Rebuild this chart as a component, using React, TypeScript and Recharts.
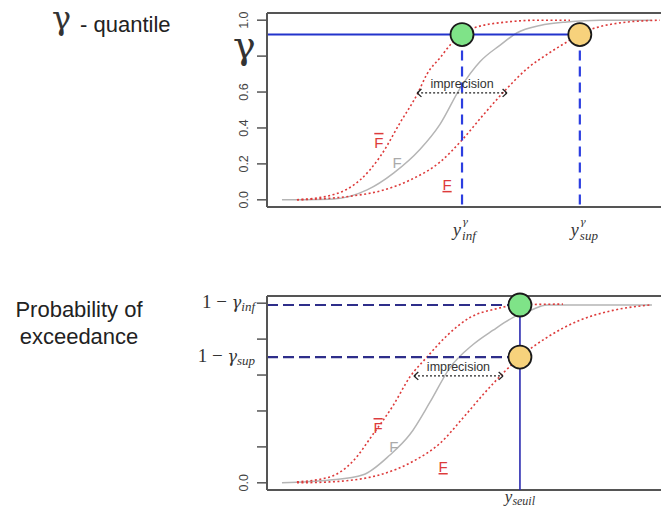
import { ComposedChart, Line, XAxis, YAxis, ReferenceLine, ReferenceDot } from 'recharts';

type Pt = { x: number; y: number };

// --- top panel: gamma-quantile ---
const topF: Pt[] = [
  { x: 3.8, y: 0 }, { x: 17.0, y: 0.005 }, { x: 25.4, y: 0.055 }, { x: 32.2, y: 0.15 },
  { x: 38.8, y: 0.28 }, { x: 43.9, y: 0.42 }, { x: 49.0, y: 0.62 }, { x: 54.1, y: 0.77 },
  { x: 59.1, y: 0.86 }, { x: 63.5, y: 0.93 }, { x: 69.3, y: 0.97 }, { x: 76.1, y: 0.99 },
  { x: 84.5, y: 1.0 }, { x: 97.7, y: 1.0 },
];
const topFUpper: Pt[] = [
  { x: 7.6, y: 0 }, { x: 17.0, y: 0.03 }, { x: 23.6, y: 0.11 }, { x: 28.7, y: 0.24 },
  { x: 33.8, y: 0.43 }, { x: 38.3, y: 0.595 }, { x: 40.6, y: 0.7 }, { x: 43.9, y: 0.79 },
  { x: 47.2, y: 0.88 }, { x: 52.3, y: 0.955 }, { x: 60.9, y: 0.99 }, { x: 69.3, y: 1.0 },
  { x: 76.9, y: 1.0 },
];
const topFLower: Pt[] = [
  { x: 7.6, y: 0 }, { x: 21.1, y: 0.02 }, { x: 29.7, y: 0.055 }, { x: 36.3, y: 0.11 },
  { x: 43.9, y: 0.21 }, { x: 49.5, y: 0.333 }, { x: 54.8, y: 0.47 }, { x: 60.9, y: 0.62 },
  { x: 66.0, y: 0.73 }, { x: 71.8, y: 0.82 }, { x: 77.7, y: 0.9 }, { x: 79.9, y: 0.93 },
  { x: 83.8, y: 0.96 }, { x: 89.6, y: 0.985 }, { x: 99.7, y: 1.0 },
];
const GAMMA = 0.92;
const Y_INF = 49.5;
const Y_SUP = 79.4;
const topImprecision = { from: 38.1, to: 60.9, y: 0.595 };

// --- bottom panel: probability of exceedance ---
const botF: Pt[] = [
  { x: 3.8, y: 0 }, { x: 16.0, y: 0.015 }, { x: 24.4, y: 0.045 }, { x: 31.2, y: 0.155 },
  { x: 36.3, y: 0.27 }, { x: 41.4, y: 0.45 }, { x: 46.4, y: 0.64 }, { x: 52.3, y: 0.77 },
  { x: 57.4, y: 0.85 }, { x: 62.4, y: 0.92 }, { x: 66.8, y: 0.96 }, { x: 71.1, y: 0.99 },
  { x: 97.7, y: 0.99 },
];
const botFUpper: Pt[] = [
  { x: 7.6, y: 0.005 }, { x: 16.0, y: 0.033 }, { x: 21.8, y: 0.12 }, { x: 26.9, y: 0.27 },
  { x: 32.0, y: 0.43 }, { x: 36.3, y: 0.59 }, { x: 40.6, y: 0.7 }, { x: 45.7, y: 0.82 },
  { x: 51.5, y: 0.92 }, { x: 58.4, y: 0.97 }, { x: 63.5, y: 0.99 }, { x: 75.1, y: 0.995 },
];
const botFLower: Pt[] = [
  { x: 7.6, y: 0 }, { x: 16.0, y: 0.005 }, { x: 28.7, y: 0.045 }, { x: 37.1, y: 0.12 },
  { x: 43.9, y: 0.22 }, { x: 49.7, y: 0.36 }, { x: 54.8, y: 0.49 }, { x: 59.9, y: 0.61 },
  { x: 64.2, y: 0.7 }, { x: 71.1, y: 0.81 }, { x: 79.4, y: 0.905 }, { x: 87.8, y: 0.96 },
  { x: 97.2, y: 0.99 },
];
const P_INF = 0.99;
const P_SUP = 0.7;
const Y_SEUIL = 64.2;
const botImprecision = { from: 37.3, to: 59.9, y: 0.595 };

const yTicks = [0, 0.2, 0.4, 0.6, 0.8, 1.0];
const botTicks = [0, 0.2, 0.4, 0.6, 0.7, 0.8, 1.0];

const BOX = '#555';
const RED = '#dd3b3b';
const GREY = '#b5b5b5';
const SERIF = '"Liberation Serif", "DejaVu Serif", serif';
const GREEK = '"DejaVu Serif", serif';
const SANS = '"Liberation Sans", Arial, sans-serif';

// 0.8 label is left out: the big gamma sits there
const RotTick = (props: any) => {
  const { x, y, payload } = props;
  if (payload.value === 0.8) return <g />;
  return (
    <text transform={`translate(${x - 9},${y}) rotate(-90)`} textAnchor="middle" fontSize={12.5} fill="#444" fontFamily={SANS}>
      {Number(payload.value).toFixed(1)}
    </text>
  );
};

const BotTick = (props: any) => {
  const { x, y, payload } = props;
  const v = payload.value;
  const line = v !== 0.7 ? <line x1={x} y1={y} x2={x + 10} y2={y} stroke={BOX} strokeWidth={1.5} /> : null;
  let label = null;
  if (v === 0) {
    label = (
      <text transform={`translate(${x - 9},${y}) rotate(-90)`} textAnchor="middle" fontSize={12.5} fill="#444" fontFamily={SANS}>0.0</text>
    );
  } else if (v === 1 || v === 0.7) {
    label = (
      <text x={x - 2} y={y} dy={5} textAnchor="end" fontSize={19} fill="#333" fontFamily={SERIF}>
        1 − <tspan fontStyle="italic" fontFamily={GREEK} fontSize={16}>γ</tspan>
        <tspan fontStyle="italic" fontSize={13} dy={3}>{v === 1 ? 'inf' : 'sup'}</tspan>
      </text>
    );
  }
  return <g>{line}{label}</g>;
};

const TopXTick = (props: any) => {
  const { x, y, payload } = props;
  const sub = payload.value === Y_INF ? 'inf' : 'sup';
  return (
    <g fill="#333" fontStyle="italic">
      <text x={x - 9} y={y + 21} fontSize={18} fontFamily={SERIF}>y</text>
      <text x={x} y={y + 10} fontSize={10} fontFamily={GREEK}>γ</text>
      <text x={x} y={y + 25} fontSize={13} fontFamily={SERIF}>{sub}</text>
    </g>
  );
};

const BotXTick = (props: any) => {
  const { x, y } = props;
  return (
    <text x={x} y={y} dy={4} textAnchor="middle" fontSize={17} fill="#333" fontFamily={SERIF} fontStyle="italic">
      y<tspan fontSize={12} dy={3}>seuil</tspan>
    </text>
  );
};

function textDot(key: string, x: number, y: number, text: string, color: string, deco?: string, size = 15) {
  return (
    <ReferenceDot
      key={key}
      x={x}
      y={y}
      r={0}
      shape={(p: any) => (
        <text x={p.cx} y={p.cy} dy={5} textAnchor="middle" fontSize={size} fill={color} fontFamily={SANS}
          style={deco ? { textDecoration: deco } : undefined}>
          {text}
        </text>
      )}
    />
  );
}

function arrow(key: string, a: { from: number; to: number; y: number }) {
  const hx = 1.1;
  const hy = 0.022;
  const s = { stroke: '#222', strokeWidth: 1.3 };
  return [
    <ReferenceLine key={key + 's'} segment={[{ x: a.from, y: a.y }, { x: a.to, y: a.y }]} {...s} strokeDasharray="2 2" />,
    <ReferenceLine key={key + 'a1'} segment={[{ x: a.from, y: a.y }, { x: a.from + hx, y: a.y + hy }]} {...s} />,
    <ReferenceLine key={key + 'a2'} segment={[{ x: a.from, y: a.y }, { x: a.from + hx, y: a.y - hy }]} {...s} />,
    <ReferenceLine key={key + 'b1'} segment={[{ x: a.to, y: a.y }, { x: a.to - hx, y: a.y + hy }]} {...s} />,
    <ReferenceLine key={key + 'b2'} segment={[{ x: a.to, y: a.y }, { x: a.to - hx, y: a.y - hy }]} {...s} />,
    textDot(key + 't', (a.from + a.to) / 2, a.y + 0.058, 'imprecision', '#333', undefined, 12.5),
  ];
}

function curves(f: Pt[], up: Pt[], lo: Pt[]) {
  return [
    <Line key="f" data={f} dataKey="y" type="monotone" stroke={GREY} strokeWidth={1.5} dot={false} isAnimationActive={false} />,
    <Line key="up" data={up} dataKey="y" type="monotone" stroke={RED} strokeWidth={1.6} strokeDasharray="2 2.5" dot={false} isAnimationActive={false} />,
    <Line key="lo" data={lo} dataKey="y" type="monotone" stroke={RED} strokeWidth={1.6} strokeDasharray="2 2.5" dot={false} isAnimationActive={false} />,
  ];
}

const DOMAIN_Y: [number, number] = [-0.04, 1.04];

export default function App() {
  return (
    <div style={{ position: 'absolute', left: 0, top: 0, width: 661, height: 510, background: '#fff', overflow: 'hidden' }}>
      <svg width={661} height={510} style={{ position: 'absolute', left: 0, top: 0 }}>
        <text x={52} y={29} fontSize={32} fontFamily={GREEK} fill="#333">γ</text>
        <text x={80} y={32} fontSize={22} fontFamily={SANS} fill="#222">- quantile</text>
        <text x={233} y={58} fontSize={38} fontFamily={GREEK} fill="#333">γ</text>
        <text x={79} y={317} textAnchor="middle" fontSize={22} fontFamily={SANS} fill="#222">Probability of</text>
        <text x={79} y={344} textAnchor="middle" fontSize={22} fontFamily={SANS} fill="#222">exceedance</text>
      </svg>

      <div style={{ position: 'absolute', left: 0, top: 0 }}>
        <ComposedChart width={661} height={260} margin={{ top: 13, right: 0, bottom: 0, left: 207 }}>
          <XAxis type="number" dataKey="x" domain={[0, 100]} allowDataOverflow ticks={[Y_INF, Y_SUP]} interval={0}
            axisLine={false} tickLine={false} height={53} tick={<TopXTick />} />
          <YAxis type="number" domain={DOMAIN_Y} allowDataOverflow ticks={yTicks} interval={0} width={60} tickSize={10} tickMargin={0}
            axisLine={{ stroke: BOX, strokeWidth: 2 }} tickLine={{ stroke: BOX, strokeWidth: 1.5 }} tick={<RotTick />} />
          <ReferenceLine y={1.04} stroke={BOX} strokeWidth={2} />
          <ReferenceLine y={-0.04} stroke={BOX} strokeWidth={2} />
          {curves(topF, topFUpper, topFLower)}
          {textDot('lu', 28.4, 0.317, 'F', RED, 'overline')}
          {textDot('lf', 33.0, 0.205, 'F', '#aaa')}
          {textDot('ll', 45.7, 0.083, 'F', RED, 'underline')}
          {arrow('ti', topImprecision)}
          <ReferenceLine segment={[{ x: 0, y: GAMMA }, { x: Y_SUP, y: GAMMA }]} stroke="#2233cc" strokeWidth={2} />
          <ReferenceLine segment={[{ x: Y_INF, y: GAMMA }, { x: Y_INF, y: -0.04 }]} stroke="#2c3ee0" strokeWidth={2.2} strokeDasharray="10 6" />
          <ReferenceLine segment={[{ x: Y_SUP, y: GAMMA }, { x: Y_SUP, y: -0.04 }]} stroke="#2c3ee0" strokeWidth={2.2} strokeDasharray="10 6" />
          <ReferenceDot x={Y_INF} y={GAMMA} r={11.5} fill="#7fe388" stroke="#1a1a1a" strokeWidth={1.8} />
          <ReferenceDot x={Y_SUP} y={GAMMA} r={11.5} fill="#f7d27c" stroke="#1a1a1a" strokeWidth={1.8} />
        </ComposedChart>
      </div>

      <div style={{ position: 'absolute', left: 0, top: 283 }}>
        <ComposedChart width={661} height={227} margin={{ top: 13, right: 0, bottom: 0, left: 207 }}>
          <XAxis type="number" dataKey="x" domain={[0, 100]} allowDataOverflow ticks={[Y_SEUIL]} interval={0}
            axisLine={false} tickLine={false} height={20} tick={<BotXTick />} />
          <YAxis type="number" domain={DOMAIN_Y} allowDataOverflow ticks={botTicks} interval={0} width={60} tickSize={10} tickMargin={0}
            axisLine={{ stroke: BOX, strokeWidth: 2 }} tickLine={false} tick={<BotTick />} />
          <ReferenceLine y={1.04} stroke={BOX} strokeWidth={2} />
          <ReferenceLine y={-0.04} stroke={BOX} strokeWidth={2} />
          {curves(botF, botFUpper, botFLower)}
          {textDot('lu', 28.2, 0.305, 'F', RED, 'overline')}
          {textDot('lf', 32.2, 0.2, 'F', '#aaa')}
          {textDot('ll', 44.7, 0.088, 'F', RED, 'underline')}
          {arrow('bi', botImprecision)}
          <ReferenceLine segment={[{ x: 0, y: P_INF }, { x: Y_SEUIL, y: P_INF }]} stroke="#2e2e8a" strokeWidth={2.2} strokeDasharray="11 5" />
          <ReferenceLine segment={[{ x: 0, y: P_SUP }, { x: Y_SEUIL, y: P_SUP }]} stroke="#2e2e8a" strokeWidth={2.2} strokeDasharray="11 5" />
          <ReferenceLine segment={[{ x: Y_SEUIL, y: P_INF }, { x: Y_SEUIL, y: -0.04 }]} stroke="#2b2bb0" strokeWidth={1.6} />
          <ReferenceDot x={Y_SEUIL} y={P_INF} r={11.5} fill="#7fe388" stroke="#1a1a1a" strokeWidth={1.8} />
          <ReferenceDot x={Y_SEUIL} y={P_SUP} r={11.5} fill="#f7d27c" stroke="#1a1a1a" strokeWidth={1.8} />
        </ComposedChart>
      </div>
    </div>
  );
}
